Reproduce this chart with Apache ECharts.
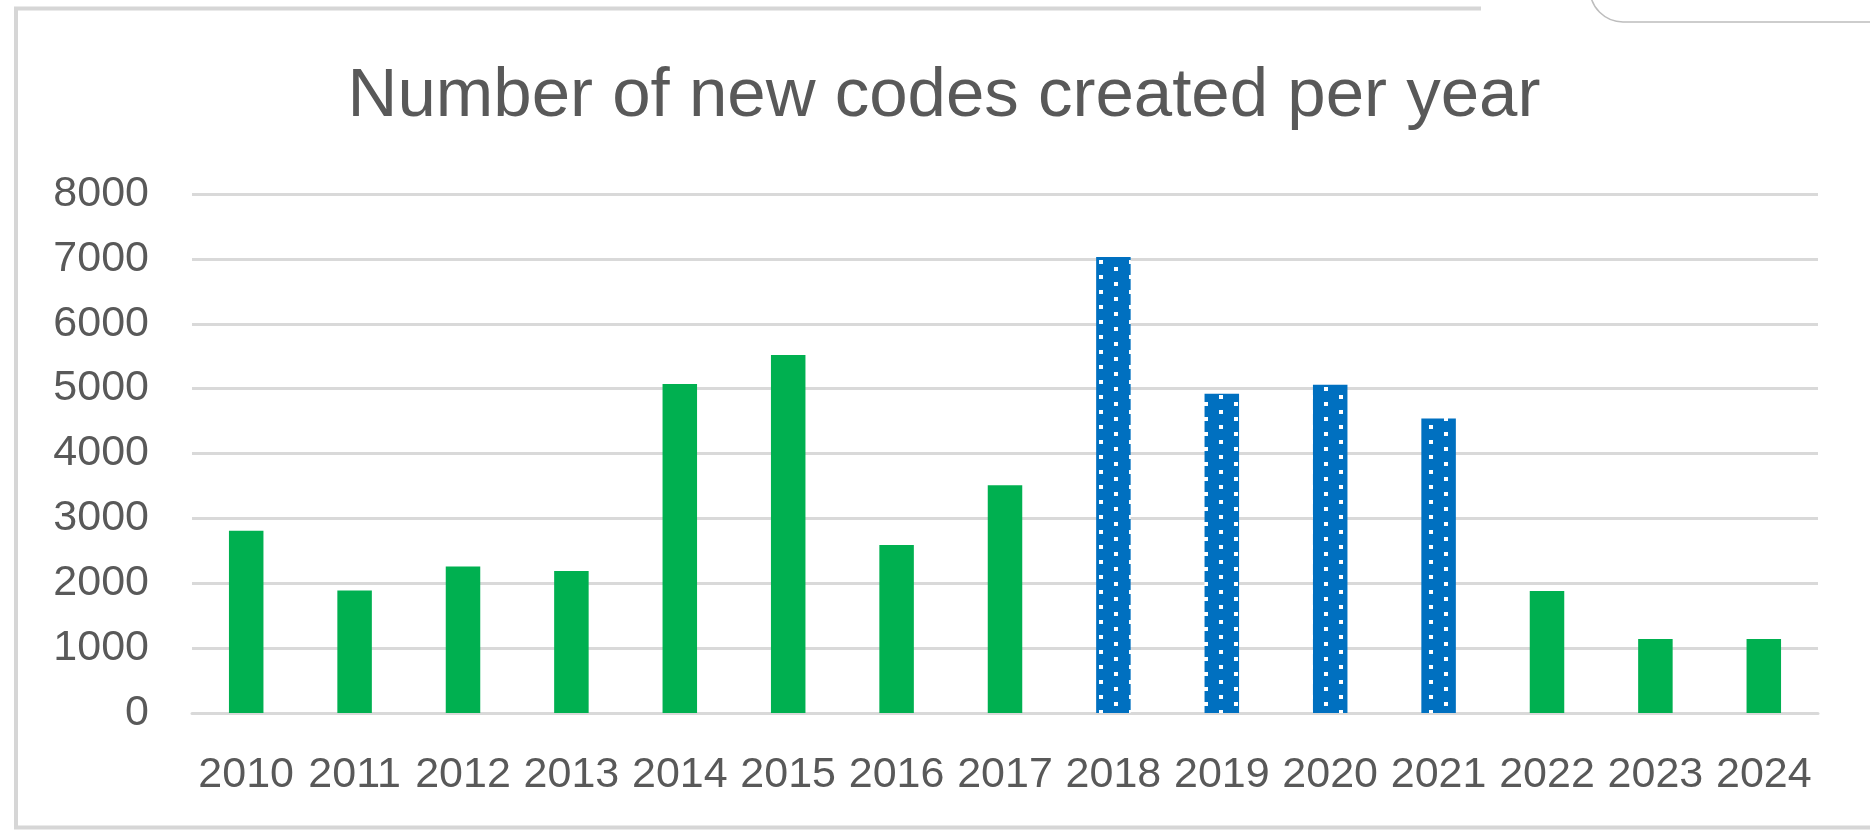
<!DOCTYPE html>
<html>
<head>
<meta charset="utf-8">
<script src="https://cdn.jsdelivr.net/npm/echarts@6/dist/echarts.min.js"></script>
<style>
html,body{margin:0;padding:0;background:#fff;}
#chart{width:1870px;height:830px;}
</style>
</head>
<body>
<div id="chart"></div>
<script>
const years = ['2010','2011','2012','2013','2014','2015','2016','2017','2018','2019','2020','2021','2022','2023','2024'];
const codes = [2810, 1890, 2260, 2190, 5070, 5520, 2590, 3510, 7030, 4920, 5060, 4540, 1880, 1140, 1140];
const patternYears = ['2018','2019','2020','2021'];
const yTicks = [0, 1000, 2000, 3000, 4000, 5000, 6000, 7000, 8000];

// dotted pattern tile
const tile = document.createElement('canvas');
tile.width = 30; tile.height = 15;
const g = tile.getContext('2d');
g.fillStyle = '#0070C0';
g.fillRect(0, 0, 30, 15);
g.fillStyle = '#ffffff';
g.fillRect(19, 5, 4, 4);
g.fillRect(4, 12, 4, 3);
g.fillRect(4, 0, 4, 1);

const chart = echarts.init(document.getElementById('chart'), null, {renderer: 'canvas'});
const textColor = '#595959';
const fontFamily = '"Liberation Sans", Arial, sans-serif';

chart.setOption({
  animation: false,
  backgroundColor: '#ffffff',
  title: {
    text: 'Number of new codes created per year',
    left: 944,
    top: 62,
    padding: 0,
    textAlign: 'center',
    textStyle: {color: textColor, fontSize: 69, fontWeight: 'normal', fontFamily: fontFamily}
  },
  grid: {left: 192, right: 52, top: 194, bottom: 117, containLabel: false},
  xAxis: {
    type: 'category',
    data: years,
    axisLine: {show: true, lineStyle: {color: '#d9d9d9', width: 3}},
    axisTick: {show: false},
    axisLabel: {color: textColor, fontSize: 43, fontFamily: fontFamily, margin: 41, interval: 0}
  },
  yAxis: {
    type: 'value',
    min: yTicks[0],
    max: yTicks[yTicks.length - 1],
    interval: 1000,
    axisLine: {show: false},
    axisTick: {show: false},
    splitLine: {lineStyle: {color: '#d9d9d9', width: 3}},
    axisLabel: {color: textColor, fontSize: 43, fontFamily: fontFamily, margin: 43,
      formatter: v => String(v)}
  },
  series: [{
    type: 'bar',
    barWidth: 34.5,
    data: codes.map((v, i) => ({
      value: v,
      itemStyle: {
        color: patternYears.includes(years[i]) ? {image: tile, repeat: 'repeat'} : '#00B050'
      }
    }))
  }],
  graphic: [
    {type: 'rect', silent: true, z: 100, shape: {x: 16, y: 8.5, width: 1900, height: 819}, style: {fill: 'none', stroke: '#d6d6d6', lineWidth: 4}},
    {type: 'rect', silent: true, z: 101, shape: {x: 1481, y: 0, width: 400, height: 14}, style: {fill: '#ffffff'}},
    {type: 'rect', silent: true, z: 102, shape: {x: 1590, y: -120, width: 400, height: 142, r: 33}, style: {fill: '#ffffff', stroke: '#bdbdbd', lineWidth: 1.5}}
  ]
});
</script>
</body>
</html>
